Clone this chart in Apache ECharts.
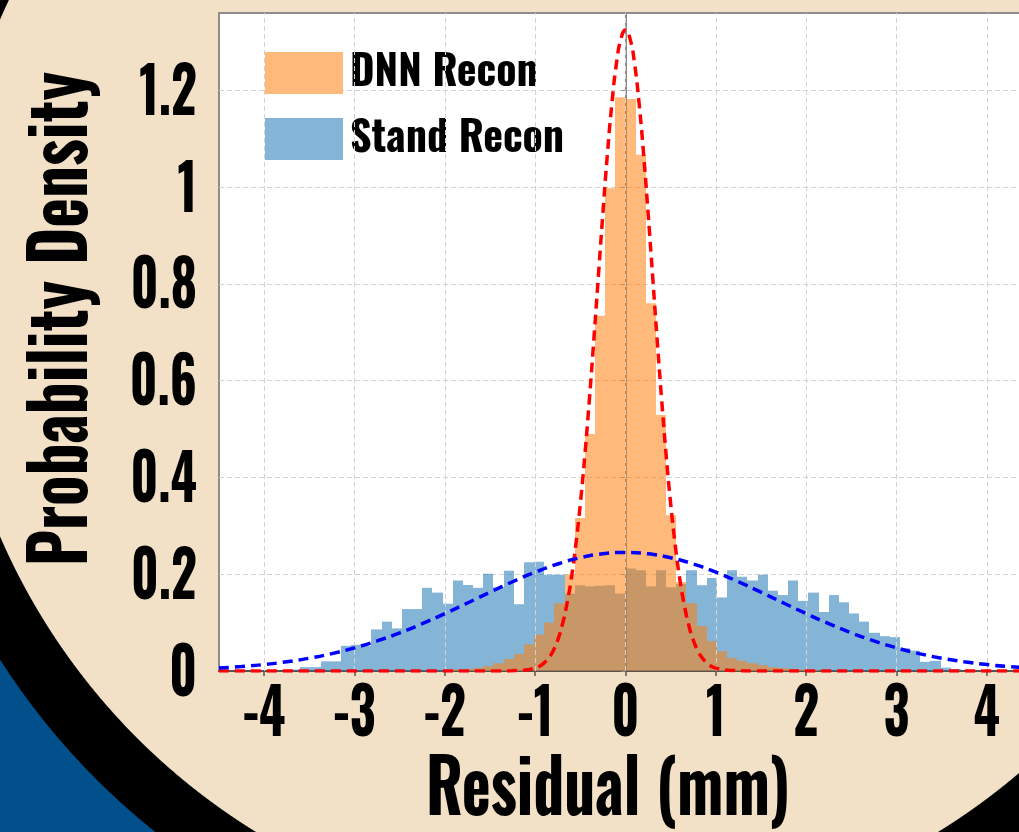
<!DOCTYPE html>
<html><head><meta charset="utf-8">
<script src="https://cdn.jsdelivr.net/npm/echarts@6/dist/echarts.min.js"></script>
<style>
html,body{margin:0;padding:0;overflow:hidden;}
#c{width:1019px;height:832px;background:radial-gradient(circle at 597px 278px,#F3E1C7 0,#F3E1C7 650px,#000 651px,#000 708px,#01508B 709px);}
</style></head><body><div id="c"></div>
<script>
// ---------------- data ----------------
const xTicks = [-4, -3, -2, -1, 0, 1, 2, 3, 4];
const yTicks = [0, 0.2, 0.4, 0.6, 0.8, 1, 1.2];
const binStart = -4.5;
const binWidth = 0.1125;
const standRecon = [
  0, 0, 0, 0, 0, 0, 0, 0.003, 0.008, 0.008,
  0.02, 0.02, 0.052, 0.054, 0.052, 0.086, 0.102, 0.088, 0.128, 0.128,
  0.172, 0.162, 0.139, 0.187, 0.178, 0.172, 0.201, 0.173, 0.207, 0.138,
  0.225, 0.226, 0.199, 0.199, 0.16, 0.177, 0.175, 0.176, 0.177, 0.16,
  0.212, 0.208, 0.175, 0.208, 0.173, 0.18, 0.208, 0.177, 0.192, 0.152,
  0.208, 0.195, 0.187, 0.199, 0.166, 0.157, 0.187, 0.145, 0.162, 0.122,
  0.157, 0.142, 0.119, 0.102, 0.079, 0.072, 0.07, 0.047, 0.042, 0.019,
  0.021, 0.007, 0.004, 0, 0, 0, 0, 0, 0, 0
];
const dnnRecon = [
  0, 0, 0, 0, 0, 0, 0, 0, 0, 0,
  0, 0, 0, 0, 0, 0, 0, 0, 0, 0,
  0, 0, 0.002, 0.003, 0.004, 0.006, 0.01, 0.016, 0.025, 0.035,
  0.055, 0.075, 0.1, 0.14, 0.2, 0.316, 0.49, 0.734, 0.998, 1.186,
  1.182, 1.067, 0.76, 0.529, 0.322, 0.184, 0.14, 0.093, 0.062, 0.041,
  0.027, 0.021, 0.016, 0.012, 0.008, 0.006, 0.004, 0.003, 0.002, 0,
  0, 0, 0, 0, 0, 0, 0, 0, 0, 0,
  0, 0, 0, 0, 0, 0, 0, 0, 0, 0
];
const dnnFitX = [-4.5, -1.4, -1.2, -1.1, -1.0, -0.95, -0.9, -0.85, -0.8, -0.75, -0.7, -0.65, -0.6, -0.55, -0.5, -0.45, -0.4, -0.35, -0.3, -0.25, -0.2, -0.15, -0.1, -0.05, 0,
  0.05, 0.1, 0.15, 0.2, 0.25, 0.3, 0.35, 0.4, 0.45, 0.5, 0.55, 0.6, 0.65, 0.7, 0.75, 0.8, 0.85, 0.9, 0.95, 1.0, 1.1, 1.2, 1.4, 4.5];
const dnnFitY = [0, 0, 0.001, 0.002, 0.006, 0.01, 0.017, 0.027, 0.042, 0.064, 0.095, 0.137, 0.191, 0.261, 0.346, 0.446, 0.561, 0.686, 0.817, 0.947, 1.069, 1.174, 1.256, 1.307, 1.325,
  1.307, 1.256, 1.174, 1.069, 0.947, 0.817, 0.686, 0.561, 0.446, 0.346, 0.261, 0.191, 0.137, 0.095, 0.064, 0.042, 0.027, 0.017, 0.01, 0.006, 0.002, 0.001, 0, 0];
const standFitX = [-4.5, -4.25, -4, -3.75, -3.5, -3.25, -3, -2.75, -2.5, -2.25, -2, -1.75, -1.5, -1.25, -1, -0.75, -0.5, -0.25, 0,
  0.25, 0.5, 0.75, 1, 1.25, 1.5, 1.75, 2, 2.25, 2.5, 2.75, 3, 3.25, 3.5, 3.75, 4, 4.25, 4.5];
const standFitY = [0.0062, 0.0092, 0.0134, 0.0191, 0.0265, 0.036, 0.0479, 0.0621, 0.0788, 0.0978, 0.1186, 0.1405, 0.1629, 0.1845, 0.2043, 0.2212, 0.2341, 0.2422, 0.245,
  0.2422, 0.2341, 0.2212, 0.2043, 0.1845, 0.1629, 0.1405, 0.1186, 0.0978, 0.0788, 0.0621, 0.0479, 0.036, 0.0265, 0.0191, 0.0134, 0.0092, 0.0062];

// ---------------- helpers ----------------
const FONT = 'Oswald, "Roboto Condensed", "DejaVu Sans Condensed", sans-serif';
const WEIGHT = 'bold';
const mctx = document.createElement('canvas').getContext('2d');
function textW(t, size) { mctx.font = WEIGHT + ' ' + size + 'px ' + FONT; return mctx.measureText(t).width; }

function histData(vals) {
  return vals.map((v, i) => [binStart + i * binWidth, binStart + (i + 1) * binWidth, v]);
}
function histRender(color, opacity) {
  return function (params, api) {
    const v = api.value(2);
    if (!v) return;
    const p0 = api.coord([api.value(0), 0]);
    const p1 = api.coord([api.value(1), v]);
    const x0 = Math.round(p0[0]), x1 = Math.round(p1[0]);
    return {
      type: 'rect',
      shape: { x: x0, y: p1[1], width: x1 - x0, height: p0[1] - p1[1] },
      style: { fill: color, opacity: opacity }
    };
  };
}
const pairs = (xs, ys) => xs.map((x, i) => [x, ys[i]]);

const xTitle = 'Residual (mm)';
const yTitle = 'Probability Density';
const xTitleSize = 74, yTitleSize = 75;
const xTitleScale = 364 / textW(xTitle, xTitleSize);
const yTitleScale = 494 / textW(yTitle, yTitleSize);
const tickSize = 64;
const tickScale = 66 / textW('0.2', tickSize);

const chart = echarts.init(document.getElementById('c'), null, { renderer: 'canvas' });
chart.setOption({
  animation: false,
  backgroundColor: 'transparent',
  grid: { left: 219, top: 13, right: -13, bottom: 161, outerBoundsMode: 'none', containLabel: false, show: true, backgroundColor: '#ffffff', borderColor: '#8c8c8c', borderWidth: 2 },
  legend: {
    left: 265, top: 52, orient: 'vertical', padding: 0,
    itemWidth: 78, itemHeight: 42, itemGap: 24, icon: 'rect',
    textStyle: { fontSize: 42, fontWeight: WEIGHT, fontFamily: FONT, color: '#000', padding: [8, 0, 0, 2] },
    data: [
      { name: 'DNN Recon', itemStyle: { color: '#FFB97A' } },
      { name: 'Stand Recon', itemStyle: { color: '#84B4D6' } }
    ]
  },
  xAxis: {
    type: 'value', min: -4.5, max: 4.5,
    splitLine: { show: false },
    axisLine: { onZero: false, lineStyle: { color: '#555', width: 2 } },
    axisTick: { customValues: xTicks, length: 5, lineStyle: { color: '#555', width: 1.5 } },
    axisLabel: { show: false }
  },
  yAxis: {
    type: 'value', min: 0, max: 1.36, interval: 0.2,
    splitLine: { show: true, lineStyle: { color: '#d2d2d2', type: [5, 3], width: 1 } },
    axisLine: { show: true, lineStyle: { color: '#8c8c8c', width: 2 } },
    axisTick: { show: true, customValues: yTicks, length: 4, lineStyle: { color: '#888' } },
    axisLabel: { show: false }
  },
  series: [
    {
      name: 'grid-x', type: 'line', data: [], z: 1, silent: true,
      markLine: {
        silent: true, symbol: 'none', label: { show: false }, animation: false,
        lineStyle: { color: '#d2d2d2', type: [5, 3], width: 1 },
        data: xTicks.map(v => ({ xAxis: v }))
      }
    },
    {
      name: 'Stand Recon', type: 'custom', z: 2, color: '#1F77B4',
      renderItem: histRender('#1F77B4', 0.55),
      encode: { x: [0, 1], y: 2 },
      data: histData(standRecon)
    },
    {
      name: 'DNN Recon', type: 'custom', z: 3, color: '#FF7F0E',
      renderItem: histRender('#FF7F0E', 0.55),
      encode: { x: [0, 1], y: 2 },
      data: histData(dnnRecon)
    },
    {
      name: 'DNN fit', type: 'line', z: 5, smooth: true, symbol: 'none',
      lineStyle: { color: '#FF0000', width: 3.5, type: [10, 6] },
      data: pairs(dnnFitX, dnnFitY)
    },
    {
      name: 'Stand fit', type: 'line', z: 6, smooth: true, symbol: 'none',
      lineStyle: { color: '#0000FF', width: 3.5, type: [10, 6] },
      data: pairs(standFitX, standFitY)
    }
  ]
});

// tick labels placed through the axes' own scales (condensed like the original font)
const txt = (x, y, text, size, extra) => Object.assign({
  type: 'text', x: x, y: y, silent: true,
  style: { text: text, fontSize: size, fontWeight: WEIGHT, fontFamily: FONT, fill: '#000', align: 'center', verticalAlign: 'middle' }
}, extra || {});
const graphics = [];
const xAxisY = chart.convertToPixel({ gridIndex: 0 }, [0, 0])[1];
const yAxisX = chart.convertToPixel({ gridIndex: 0 }, [-4.5, 0])[0];
xTicks.forEach(v => {
  const p = chart.convertToPixel({ gridIndex: 0 }, [v, 0]);
  graphics.push(txt(p[0], xAxisY + 45, String(v), tickSize, { scaleX: tickScale }));
});
yTicks.forEach(v => {
  const p = chart.convertToPixel({ gridIndex: 0 }, [-4.5, v]);
  const g = txt(yAxisX - 22, p[1] + 5, String(v), tickSize, { scaleX: tickScale });
  g.style.align = 'right';
  graphics.push(g);
});
graphics.push(txt(608, 792, xTitle, xTitleSize, { scaleX: xTitleScale }));
graphics.push(txt(64, 319, yTitle, yTitleSize, { rotation: Math.PI / 2, scaleX: yTitleScale }));
chart.setOption({ graphic: graphics });
</script></body></html>
